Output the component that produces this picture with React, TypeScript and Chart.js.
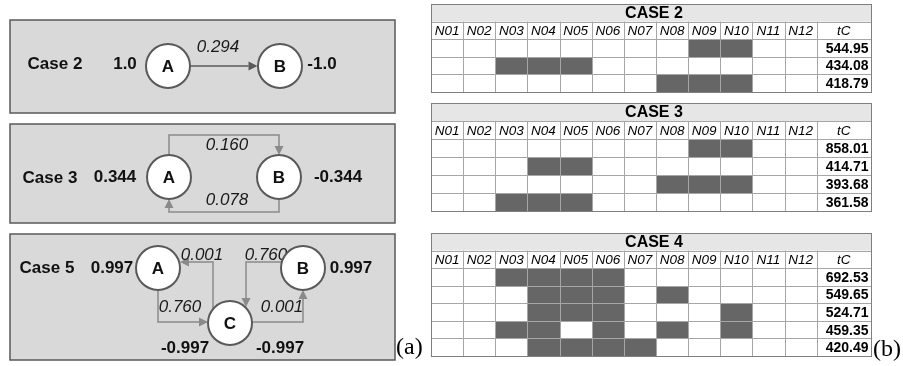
import React, { useEffect, useRef } from "react";
import { Chart, registerables } from "chart.js";
Chart.register(...registerables);

// ---------------- Data ----------------
// Left panel (a)
const panelCases = ["Case 2", "Case 3", "Case 5"];
const case2Nodes = ["A", "B"];
const case2Values = ["1.0", "-1.0"];
const case2Weights = ["0.294"];
const case3Nodes = ["A", "B"];
const case3Values = ["0.344", "-0.344"];
const case3Weights = ["0.160", "0.078"];
const case5Nodes = ["A", "B", "C"];
const case5Values = ["0.997", "0.997", "-0.997", "-0.997"];
const case5Weights = ["0.001", "0.760", "0.760", "0.001"]; // C→A, A→C, B→C, C→B

// Right panel (b)
const columns = ["N01", "N02", "N03", "N04", "N05", "N06", "N07", "N08", "N09", "N10", "N11", "N12"];
const tcLabel = "tC";
const tableTitles = ["CASE 2", "CASE 3", "CASE 4"];
const case2TC = [544.95, 434.08, 418.79];
const case2Filled = [["N09", "N10"], ["N03", "N04", "N05"], ["N08", "N09", "N10"]];
const case3TC = [858.01, 414.71, 393.68, 361.58];
const case3Filled = [["N09", "N10"], ["N04", "N05"], ["N08", "N09", "N10"], ["N03", "N04", "N05"]];
const case4TC = [692.53, 549.65, 524.71, 459.35, 420.49];
const case4Filled = [
  ["N03", "N04", "N05", "N06"],
  ["N04", "N05", "N06", "N08"],
  ["N04", "N05", "N06", "N10"],
  ["N03", "N04", "N06", "N08", "N10"],
  ["N04", "N05", "N06", "N07"],
];
const panelLabels = ["(a)", "(b)"];

// ---------------- Layout (positions in the 903x366 frame) ----------------
const W = 903;
const H = 366;
const SANS = '"Liberation Sans", Arial, sans-serif';
const SERIF = '"Liberation Serif", "Times New Roman", serif';
const R = 22;

const boxes = [
  { x0: 10, y0: 20, x1: 395, y1: 113 },
  { x0: 10, y0: 124, x1: 395, y1: 223 },
  { x0: 10, y0: 234, x1: 395, y1: 360 },
];
const caseLabelPos = [
  { x: 55, y: 64 },
  { x: 50, y: 178 },
  { x: 47, y: 268 },
];
const case2NodePos = [{ x: 168, y: 66 }, { x: 280, y: 66 }];
const case2ValuePos = [{ x: 125, y: 64 }, { x: 322, y: 64 }];
const case3NodePos = [{ x: 169, y: 177 }, { x: 279, y: 177 }];
const case3ValuePos = [{ x: 115, y: 177 }, { x: 338, y: 177 }];
const case5NodePos = [{ x: 158, y: 268 }, { x: 303, y: 268 }, { x: 230, y: 323 }];
const case5ValuePos = [{ x: 112, y: 268 }, { x: 351, y: 268 }, { x: 185, y: 348 }, { x: 280, y: 348 }];

const case2Edges = [{ pts: [[190.5, 66], [257.5, 66]], label: { x: 218, y: 47 } }];
const case3Edges = [
  { pts: [[169, 155], [169, 135], [279, 135], [279, 155]], label: { x: 227, y: 145 } },
  { pts: [[279, 199], [279, 212], [169, 212], [169, 199]], label: { x: 227, y: 200 } },
];
const case5Edges = [
  { pts: [[213, 309], [213, 262], [180, 262]], label: { x: 202, y: 255 } },
  { pts: [[158, 290], [158, 322], [208, 322]], label: { x: 180, y: 307 } },
  { pts: [[281, 262], [246, 262], [246, 307]], label: { x: 266, y: 255 } },
  { pts: [[252, 322], [303, 322], [303, 290]], label: { x: 282, y: 307 } },
];

const tableX0 = 431;
const colW = 32.14;
const tcW = 54.3;
const tables = [
  { top: 4, bottom: 92, title: tableTitles[0], tc: case2TC, filled: case2Filled },
  { top: 103, bottom: 211, title: tableTitles[1], tc: case3TC, filled: case3Filled },
  { top: 233, bottom: 356, title: tableTitles[2], tc: case4TC, filled: case4Filled },
];

// ---------------- Drawing plugin ----------------
const diagramPlugin = {
  id: "diagram",
  beforeDatasetsDraw(chart: any) {
    const ctx: CanvasRenderingContext2D = chart.ctx;
    const sx = chart.scales.x;
    const sy = chart.scales.y;
    const px = (v: number) => sx.getPixelForValue(v);
    const py = (v: number) => sy.getPixelForValue(v);
    const crisp = (v: number) => Math.round(v) + 0.5;
    ctx.save();

    // Boxes
    boxes.forEach((b) => {
      ctx.fillStyle = "#d9d9d9";
      ctx.fillRect(px(b.x0), py(b.y0), px(b.x1) - px(b.x0), py(b.y1) - py(b.y0));
      ctx.strokeStyle = "#595959";
      ctx.lineWidth = 1.5;
      ctx.strokeRect(px(b.x0), py(b.y0), px(b.x1) - px(b.x0), py(b.y1) - py(b.y0));
    });

    // Edges
    const drawEdge = (pts: number[][], color: string) => {
      ctx.strokeStyle = color;
      ctx.fillStyle = color;
      ctx.lineWidth = 1.5;
      const n = pts.length;
      const [ex, ey] = pts[n - 1];
      const [qx, qy] = pts[n - 2];
      const len = Math.hypot(px(ex) - px(qx), py(ey) - py(qy));
      const ux = (px(ex) - px(qx)) / len;
      const uy = (py(ey) - py(qy)) / len;
      const ah = 9;
      const aw = 4.5;
      ctx.beginPath();
      ctx.moveTo(px(pts[0][0]), py(pts[0][1]));
      for (let i = 1; i < n - 1; i++) ctx.lineTo(px(pts[i][0]), py(pts[i][1]));
      ctx.lineTo(px(ex) - ux * ah, py(ey) - uy * ah);
      ctx.stroke();
      ctx.beginPath();
      ctx.moveTo(px(ex), py(ey));
      ctx.lineTo(px(ex) - ux * ah - uy * aw, py(ey) - uy * ah + ux * aw);
      ctx.lineTo(px(ex) - ux * ah + uy * aw, py(ey) - uy * ah - ux * aw);
      ctx.closePath();
      ctx.fill();
    };
    ctx.font = `italic 17px ${SANS}`;
    ctx.textAlign = "center";
    ctx.textBaseline = "middle";
    const edgeSets: [typeof case2Edges, string[], string][] = [
      [case2Edges, case2Weights, "#5a5a5a"],
      [case3Edges, case3Weights, "#8a8a8a"],
      [case5Edges, case5Weights, "#8a8a8a"],
    ];
    edgeSets.forEach(([edges, weights, color]) => {
      edges.forEach((e, i) => {
        drawEdge(e.pts, color);
        ctx.fillStyle = "#1a1a1a";
        ctx.fillText(weights[i], px(e.label.x), py(e.label.y));
      });
    });

    // Tables
    const colX = (i: number) => tableX0 + i * colW;
    const tableRight = tableX0 + columns.length * colW + tcW;
    tables.forEach((t) => {
      const nRows = t.tc.length + 2;
      const rh = (t.bottom - t.top) / nRows;
      const rowY = (r: number) => t.top + r * rh;
      // background
      ctx.fillStyle = "#ffffff";
      ctx.fillRect(px(tableX0), py(t.top), px(tableRight) - px(tableX0), py(t.bottom) - py(t.top));
      ctx.fillStyle = "#e6e6e6";
      ctx.fillRect(px(tableX0), py(t.top), px(tableRight) - px(tableX0), py(rowY(1)) - py(t.top));
      // filled cells
      ctx.fillStyle = "#666666";
      t.filled.forEach((row, r) => {
        row.forEach((c) => {
          const ci = columns.indexOf(c);
          const x0 = Math.round(px(colX(ci)));
          const x1 = Math.round(px(colX(ci + 1)));
          const y0 = Math.round(py(rowY(r + 2)));
          const y1 = Math.round(py(rowY(r + 3)));
          ctx.fillRect(x0, y0, x1 - x0 + 1, y1 - y0 + 1);
        });
      });
      // grid
      ctx.lineWidth = 1;
      ctx.strokeStyle = "#a6a6a6";
      ctx.beginPath();
      for (let r = 1; r < nRows; r++) {
        const y = crisp(py(rowY(r)));
        ctx.moveTo(px(tableX0), y);
        ctx.lineTo(px(tableRight), y);
      }
      for (let i = 1; i <= columns.length; i++) {
        const x = crisp(px(colX(i)));
        ctx.moveTo(x, py(rowY(1)));
        ctx.lineTo(x, py(t.bottom));
      }
      ctx.stroke();
      ctx.strokeStyle = "#7f7f7f";
      ctx.strokeRect(
        crisp(px(tableX0)),
        crisp(py(t.top)),
        Math.round(px(tableRight) - px(tableX0)),
        Math.round(py(t.bottom) - py(t.top))
      );
      // text
      ctx.fillStyle = "#000000";
      ctx.textBaseline = "middle";
      ctx.textAlign = "center";
      ctx.font = `bold 16px ${SANS}`;
      ctx.fillText(t.title, px((tableX0 + tableRight) / 2 + 3), py((rowY(0) + rowY(1)) / 2) + 1);
      ctx.font = `italic 13.5px ${SANS}`;
      columns.forEach((c, i) => {
        ctx.fillText(c, px(colX(i) + colW / 2), py((rowY(1) + rowY(2)) / 2) + 1);
      });
      ctx.fillText(tcLabel, px(colX(columns.length) + tcW / 2), py((rowY(1) + rowY(2)) / 2) + 1);
      ctx.font = `bold 14px ${SANS}`;
      ctx.textAlign = "right";
      t.tc.forEach((v, r) => {
        ctx.fillText(v.toFixed(2), px(tableRight - 2.5), py((rowY(r + 2) + rowY(r + 3)) / 2) + 1);
      });
    });
    ctx.restore();
  },
  afterDatasetsDraw(chart: any) {
    const ctx: CanvasRenderingContext2D = chart.ctx;
    const sx = chart.scales.x;
    const sy = chart.scales.y;
    const px = (v: number) => sx.getPixelForValue(v);
    const py = (v: number) => sy.getPixelForValue(v);
    ctx.save();
    ctx.fillStyle = "#111111";
    ctx.textAlign = "center";
    ctx.textBaseline = "middle";
    ctx.font = `bold 17px ${SANS}`;
    panelCases.forEach((c, i) => ctx.fillText(c, px(caseLabelPos[i].x), py(caseLabelPos[i].y)));
    const groups: [string[], { x: number; y: number }[], string[], { x: number; y: number }[]][] = [
      [case2Nodes, case2NodePos, case2Values, case2ValuePos],
      [case3Nodes, case3NodePos, case3Values, case3ValuePos],
      [case5Nodes, case5NodePos, case5Values, case5ValuePos],
    ];
    groups.forEach(([names, npos, vals, vpos]) => {
      names.forEach((n, i) => ctx.fillText(n, px(npos[i].x), py(npos[i].y) + 1));
      vals.forEach((v, i) => ctx.fillText(v, px(vpos[i].x), py(vpos[i].y)));
    });
    ctx.fillStyle = "#000000";
    ctx.font = `24px ${SERIF}`;
    ctx.textAlign = "left";
    ctx.fillText(panelLabels[0], px(396), py(348));
    ctx.fillText(panelLabels[1], px(873), py(350));
    ctx.restore();
  },
};

export default function App() {
  const ref = useRef<HTMLCanvasElement | null>(null);
  useEffect(() => {
    if (!ref.current) return;
    const allNodePos = [...case2NodePos, ...case3NodePos, ...case5NodePos];
    const chart = new Chart(ref.current, {
      type: "scatter",
      data: {
        datasets: [
          {
            label: "nodes",
            data: allNodePos.map((p) => ({ x: p.x, y: p.y })),
            pointRadius: R,
            pointHoverRadius: R,
            pointBackgroundColor: "#ffffff",
            pointBorderColor: "#595959",
            pointBorderWidth: 2,
            pointHoverBorderWidth: 2,
            clip: false,
          },
        ],
      },
      options: {
        responsive: false,
        animation: false,
        events: [],
        layout: { padding: 0, autoPadding: false },
        scales: {
          x: { type: "linear", min: 0, max: W, display: false },
          y: { type: "linear", min: 0, max: H, reverse: true, display: false },
        },
        plugins: { legend: { display: false }, tooltip: { enabled: false } },
      },
      plugins: [diagramPlugin],
    });
    return () => chart.destroy();
  }, []);
  return (
    <div style={{ position: "absolute", left: 0, top: 0, width: W, height: H, background: "#fff" }}>
      <canvas ref={ref} width={W} height={H} style={{ display: "block" }} />
    </div>
  );
}
